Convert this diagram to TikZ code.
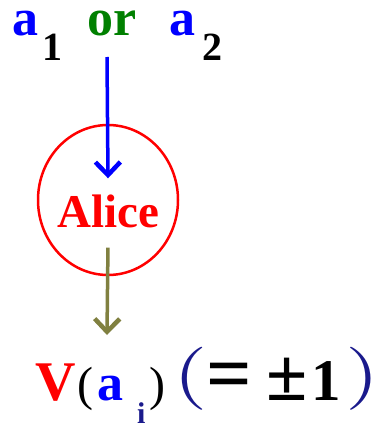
\documentclass[tikz,border=0pt]{standalone}
\usepackage{fontspec}
\setmainfont{Liberation Serif}
\newfontfamily\lmfont{lmroman10-regular}[Extension=.otf]
\usetikzlibrary{arrows.meta,shapes.geometric}
\definecolor{ablue}{HTML}{0000FF}
\definecolor{agreen}{HTML}{008000}
\definecolor{ared}{HTML}{FF0000}
\definecolor{navy}{HTML}{1A1A8C}
\definecolor{olivedrab}{HTML}{808040}
\newcommand{\fsz}[1]{\fontsize{#1}{#1}\selectfont}
\newcommand{\wide}[1]{\scalebox{1.4}[1]{#1}}
\tikzset{glyph/.style={inner sep=0pt,anchor=base west,font=\bfseries\fsz{52}},
  sub/.style={glyph,font=\bfseries\fsz{40}},
  thin/.style={glyph,font=\fsz{48}},
  bigparen/.style={glyph,text=navy,font=\lmfont\fsz{63}},
  feed/.style={line width=3.5pt,-{Straight Barb[length=13pt,width=25pt,line width=4.5pt]}}}

\begin{document}
\begin{tikzpicture}[x=1pt,y=-1pt]
\useasboundingbox (0,0) rectangle (377,423);
% choice of the setting
\node[glyph,text=ablue] (a1) at (12,35) {a};
\node[sub] (one) at (42,60) {1};
\node[glyph,text=agreen] (or) at (87,35) {or};
\node[glyph,text=ablue] (a2) at (169,35) {a};
\node[sub] (two) at (202,60) {2};
\coordinate (src) at (107,57);

% Alice
\node[ellipse,draw=ared,line width=2.5pt,minimum width=140pt,minimum height=150pt,inner sep=0pt] (ring) at (108,200) {};
\node[text=ared,font=\bfseries\fsz{47},inner sep=16pt] (alice) at (108,211) {Alice};
\coordinate (tip) at (107,335);
\draw[feed,ablue] (src) -- (alice.north);
\draw[feed,olivedrab,shorten <=4pt] (alice.south) -- (tip);

% outcome
\node[glyph,text=ared,font=\bfseries\fsz{56}] (V) at (35,400) {V};
\node[thin] (lp) at (77,400) {(};
\node[glyph,text=ablue] (ai) at (97,400) {a};
\node[sub,text=navy,font=\bfseries\fsz{30}] (idx) at (137,423) {i};
\node[thin] (rp) at (149,400) {)};
\node[bigparen] (lbig) at (173,394) {\wide{(}};
\node[glyph,font=\bfseries\fsz{80}] (eq) at (206,400) {=};
\node[glyph,font=\bfseries\fsz{75}] (pm) at (266,400) {±};
\node[glyph,font=\bfseries\fsz{59}] (val) at (311,400) {1};
\node[bigparen] (rbig) at (345,394) {\wide{)}};
\end{tikzpicture}
\end{document}
